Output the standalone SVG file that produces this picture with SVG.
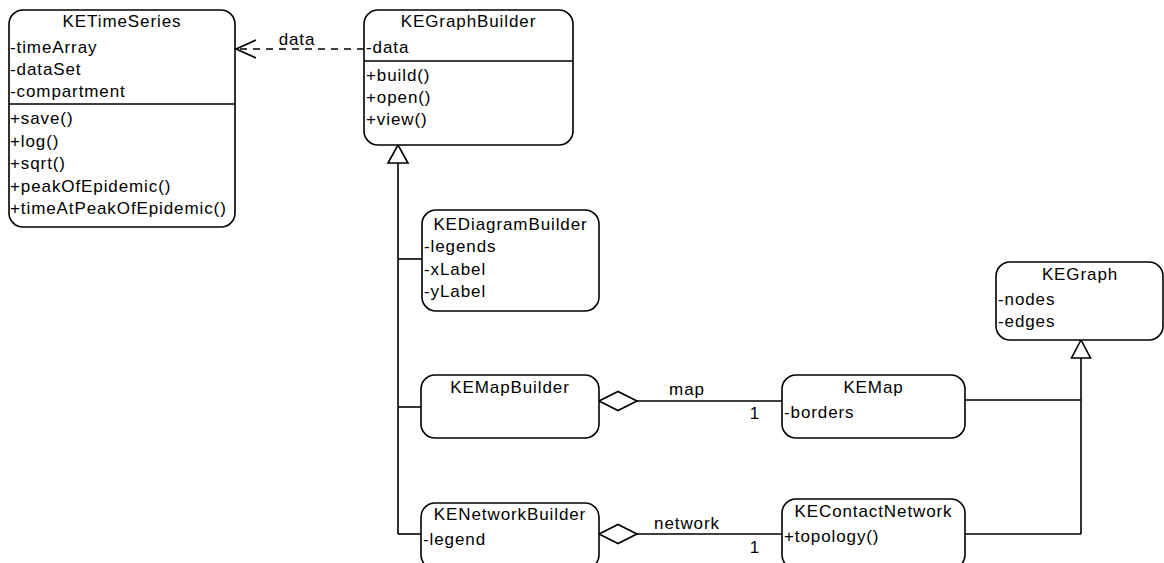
<svg xmlns="http://www.w3.org/2000/svg" width="1164" height="563" viewBox="0 0 1164 563">
<style>
.box{fill:#fff;stroke:#000;stroke-width:1.6}
.sep{stroke:#000;stroke-width:1.4}
text{font-family:"Liberation Sans",Arial,sans-serif;font-size:17px;letter-spacing:0.9px;fill:#000}
.t{text-anchor:middle}
.ln{fill:none;stroke:#000;stroke-width:1.6}
.dash{fill:none;stroke:#000;stroke-width:1.4;stroke-dasharray:7,6}
.tri{fill:#fff;stroke:#000;stroke-width:1.6}
</style>
<rect width="1164" height="563" fill="#fff"/>
<g id="connectors">
  <line class="dash" x1="364" y1="49" x2="237" y2="49"/>
  <polyline class="ln" points="256,40 236,49 256,58"/>
  <text x="297" y="45" class="t">data</text>
  <line class="ln" x1="398" y1="162" x2="398" y2="534"/>
  <line class="ln" x1="398" y1="259" x2="422" y2="259"/>
  <line class="ln" x1="398" y1="407" x2="421" y2="407"/>
  <line class="ln" x1="398" y1="534" x2="421" y2="534"/>
  <polygon class="tri" points="398,145 388,163 408,163"/>
  <line class="ln" x1="637" y1="401" x2="782" y2="401"/>
  <polygon class="tri" points="599,401 618,391.5 637,401 618,410.5"/>
  <text x="687" y="395" class="t">map</text>
  <text x="755" y="419" class="t">1</text>
  <line class="ln" x1="637" y1="534" x2="782" y2="534"/>
  <polygon class="tri" points="599,534 618,524.5 637,534 618,543.5"/>
  <text x="687" y="529" class="t">network</text>
  <text x="755" y="553" class="t">1</text>
  <line class="ln" x1="1081" y1="358" x2="1081" y2="534"/>
  <line class="ln" x1="965" y1="400" x2="1081" y2="400"/>
  <line class="ln" x1="965" y1="534" x2="1081" y2="534"/>
  <polygon class="tri" points="1081,340 1071.5,358 1090.5,358"/>
</g>
<g id="KETimeSeries">
  <rect class="box" x="9" y="10" width="226" height="217" rx="14"/>
  <line class="sep" x1="9" y1="104" x2="235" y2="104"/>
  <text x="122" y="27" class="t">KETimeSeries</text>
  <text x="10" y="53">-timeArray</text>
  <text x="10" y="75">-dataSet</text>
  <text x="10" y="97">-compartment</text>
  <text x="10" y="124">+save()</text>
  <text x="10" y="147">+log()</text>
  <text x="10" y="169">+sqrt()</text>
  <text x="10" y="192">+peakOfEpidemic()</text>
  <text x="10" y="214">+timeAtPeakOfEpidemic()</text>
</g>
<g id="KEGraphBuilder">
  <rect class="box" x="364" y="10" width="209" height="135" rx="14"/>
  <line class="sep" x1="364" y1="61" x2="573" y2="61"/>
  <text x="468.5" y="27" class="t">KEGraphBuilder</text>
  <text x="366" y="53">-data</text>
  <text x="366" y="81">+build()</text>
  <text x="366" y="103">+open()</text>
  <text x="366" y="125">+view()</text>
</g>
<g id="KEDiagramBuilder">
  <rect class="box" x="422" y="210" width="177" height="101" rx="14"/>
  <text x="510.5" y="230" class="t">KEDiagramBuilder</text>
  <text x="424" y="252">-legends</text>
  <text x="424" y="275">-xLabel</text>
  <text x="424" y="297">-yLabel</text>
</g>
<g id="KEMapBuilder">
  <rect class="box" x="421" y="375" width="178" height="63" rx="14"/>
  <text x="510" y="393" class="t">KEMapBuilder</text>
</g>
<g id="KENetworkBuilder">
  <rect class="box" x="421" y="503" width="178" height="66" rx="14"/>
  <text x="510" y="520" class="t">KENetworkBuilder</text>
  <text x="423" y="545">-legend</text>
</g>
<g id="KEMap">
  <rect class="box" x="782" y="375" width="183" height="63" rx="14"/>
  <text x="873.5" y="393" class="t">KEMap</text>
  <text x="784" y="418">-borders</text>
</g>
<g id="KEContactNetwork">
  <rect class="box" x="782" y="499" width="183" height="70" rx="14"/>
  <text x="873.5" y="517" class="t">KEContactNetwork</text>
  <text x="784" y="542">+topology()</text>
</g>
<g id="KEGraph">
  <rect class="box" x="996" y="262" width="167" height="78" rx="14"/>
  <text x="1080" y="280" class="t">KEGraph</text>
  <text x="998" y="305">-nodes</text>
  <text x="998" y="327">-edges</text>
</g>
</svg>
